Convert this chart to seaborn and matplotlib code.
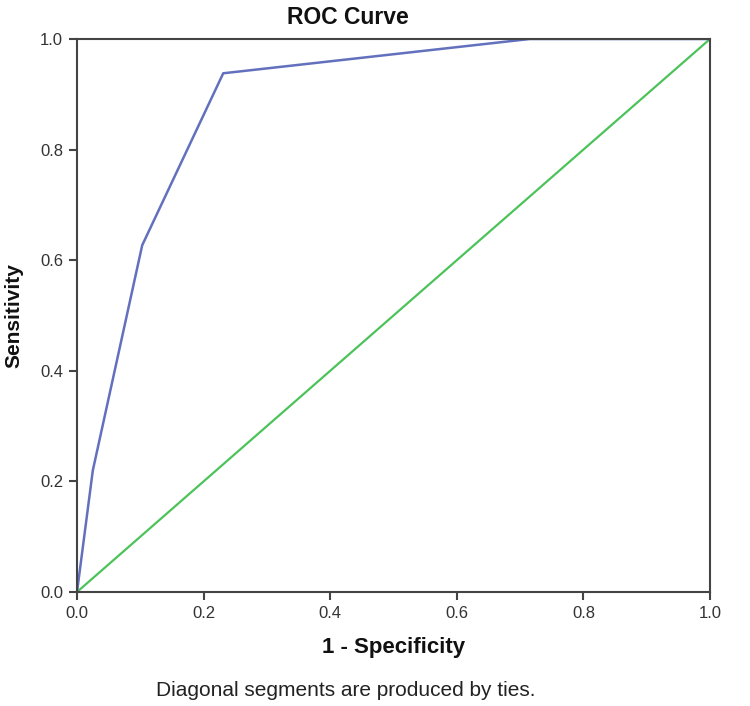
import matplotlib
matplotlib.use("Agg")
import matplotlib.pyplot as plt
import seaborn as sns
import pandas as pd

fpr = [0.0, 0.025, 0.103, 0.231, 0.715, 1.0]
tpr = [0.0, 0.22, 0.627, 0.938, 1.0, 1.0]
ref_x = [0.0, 1.0]
ref_y = [0.0, 1.0]
ticks = [0.0, 0.2, 0.4, 0.6, 0.8, 1.0]

sns.set_theme(style="white")
plt.rcParams['font.family'] = ['Liberation Sans', 'DejaVu Sans']

fig = plt.figure(figsize=(7.5, 7.06), dpi=100)
ax = fig.add_axes([77/750, 1-592/706, (710-77)/750, (592-39)/706])

roc = pd.DataFrame({"x": fpr, "y": tpr})
diag = pd.DataFrame({"x": ref_x, "y": ref_y})
sns.lineplot(data=diag, x="x", y="y", ax=ax, color="#4cc35a", linewidth=1.6, sort=False)
sns.lineplot(data=roc, x="x", y="y", ax=ax, color="#6270bd", linewidth=1.8, sort=False)

ax.set_xlim(0, 1)
ax.set_ylim(0, 1)
ax.set_xticks(ticks)
ax.set_yticks(ticks)
ax.set_xticklabels([f"{t:.1f}" for t in ticks])
ax.set_yticklabels([f"{t:.1f}" for t in ticks])
for s in ax.spines.values():
    s.set_color("#444444")
    s.set_linewidth(1.5)
    s.set_visible(True)
ax.tick_params(axis="both", direction="out", length=6, width=1.5, color="#444444",
               labelsize=12, labelcolor="#333333", pad=4, bottom=True, left=True)

ax.set_xlabel("")
ax.set_ylabel("Sensitivity", fontsize=15, fontweight="bold", color="#111111", labelpad=12)

fig.text(348/750, 1-18/706, "ROC Curve", ha="center", va="center",
         fontsize=16.5, fontweight="bold", color="#111111")
fig.text(394/750, 1-648/706, "1 - Specificity", ha="center", va="center",
         fontsize=16, fontweight="bold", color="#111111")
fig.text(346/750, 1-690/706, "Diagonal segments are produced by ties.", ha="center", va="center",
         fontsize=15, color="#222222")

fig.savefig("out.png", dpi=100)
